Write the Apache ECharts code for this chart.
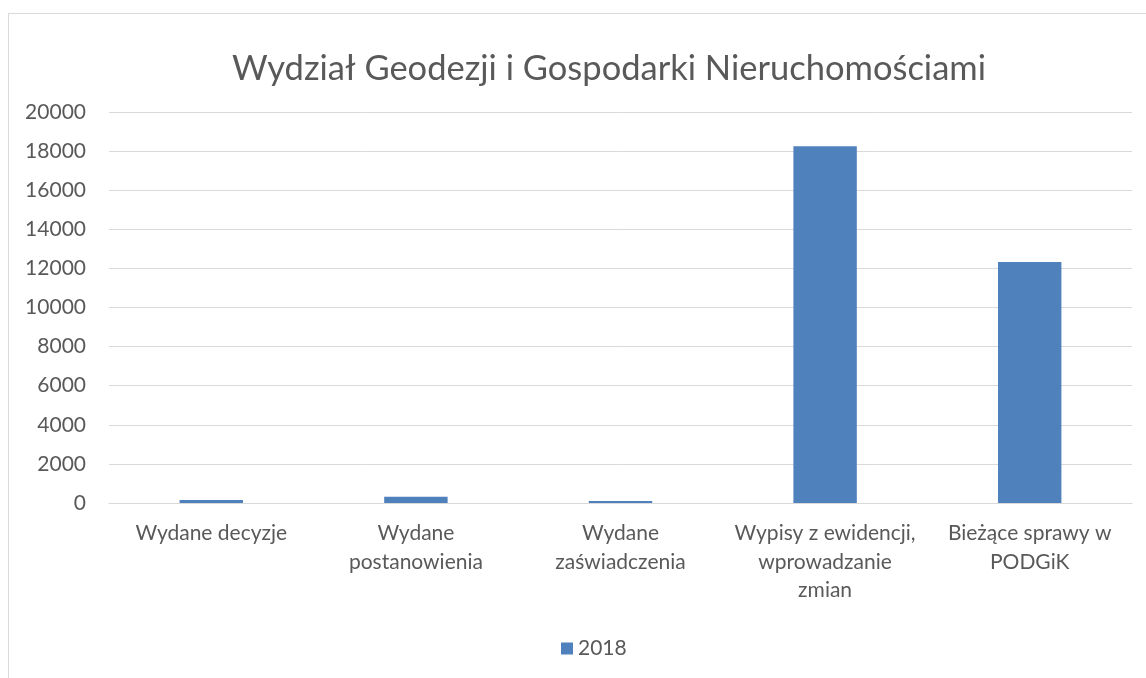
<!DOCTYPE html>
<html>
<head>
<meta charset="utf-8">
<script src="https://cdn.jsdelivr.net/npm/echarts@6/dist/echarts.min.js"></script>
<style>
  html, body { margin: 0; padding: 0; background: #fff; }
  .frame {
    position: absolute;
    left: 8px; top: 13px;
    width: 1150px; height: 680px;
    border-left: 1px solid #d9d9d9;
    border-top: 1px solid #d9d9d9;
  }
  #chart { width: 1146px; height: 678px; position: absolute; left: 0; top: 0; }
</style>
</head>
<body>
<div class="frame"></div>
<div id="chart"></div>
<script>
const title = 'Wydział Geodezji i Gospodarki Nieruchomościami'
const categories = [
  'Wydane decyzje',
  'Wydane\npostanowienia',
  'Wydane\nzaświadczenia',
  'Wypisy z ewidencji,\nwprowadzanie\nzmian',
  'Bieżące sprawy w\nPODGiK'
]
const seriesName = '2018'
const values2018 = [150, 320, 100, 18250, 12330]

const font = 'Lato, "Open Sans", sans-serif'
const textColor = '#595959'

const chart = echarts.init(document.getElementById('chart'))
chart.setOption({
  animation: false,
  title: {
    text: title,
    left: 604,
    textAlign: 'center',
    top: 46,
    textStyle: { fontFamily: font, fontSize: 34.5, fontWeight: 'normal', color: textColor }
  },
  legend: {
    data: [seriesName],
    bottom: 14,
    left: 556,
    itemWidth: 12,
    itemHeight: 12,
    itemGap: 5,
    icon: 'rect',
    textStyle: { fontFamily: font, fontSize: 21, color: textColor }
  },
  grid: { left: 109, right: 14, top: 112, bottom: 175 },
  xAxis: {
    type: 'category',
    data: categories,
    axisLine: { lineStyle: { color: '#d9d9d9', width: 1 } },
    axisTick: { show: false },
    axisLabel: {
      fontFamily: font, fontSize: 21, color: textColor,
      lineHeight: 28.5, margin: 16, interval: 0, align: 'center'
    }
  },
  yAxis: {
    type: 'value',
    min: 0,
    max: 20000,
    interval: 2000,
    axisLine: { show: false },
    axisTick: { show: false },
    splitLine: { lineStyle: { color: '#d9d9d9', width: 1 } },
    axisLabel: {
      fontFamily: font, fontSize: 21, color: textColor, margin: 23,
      formatter: v => String(v)
    }
  },
  series: [{
    name: seriesName,
    type: 'bar',
    data: values2018,
    barWidth: '31%',
    itemStyle: { color: '#4f81bd' }
  }]
})
</script>
</body>
</html>
